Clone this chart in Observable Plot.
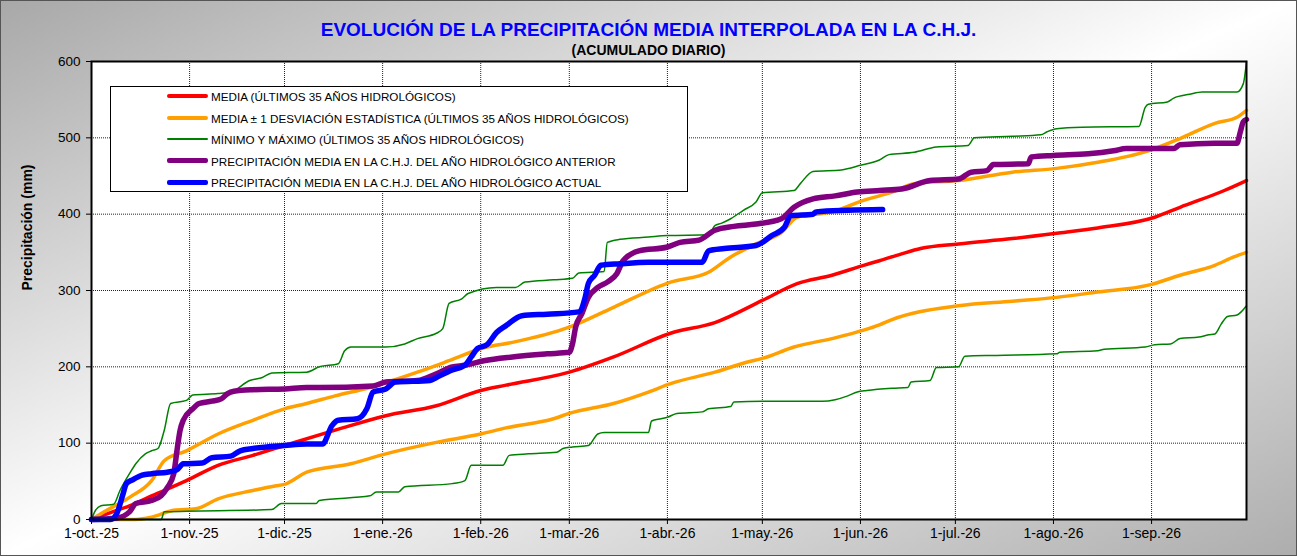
<!DOCTYPE html>
<html>
<head>
<meta charset="utf-8">
<script src="https://cdn.jsdelivr.net/npm/d3@7"></script>
<script src="https://cdn.jsdelivr.net/npm/@observablehq/plot@0.6"></script>
<style>
  html, body { margin: 0; padding: 0; }
  body { width: 1297px; height: 556px; overflow: hidden; font-family: "Liberation Sans", Arial, sans-serif; }
  #wrap {
    position: relative; width: 1297px; height: 556px;
    background: linear-gradient(to bottom right, #a8a8a8 0%, #ffffff 50%, #adadad 100%);
    box-shadow: inset 0 0 0 1px #555;
  }
  #chart { position: absolute; left: 0; top: 0; }
  #title { position: absolute; left: 0; width: 1297px; top: 19px; text-align: center; color: #0000ff; font-weight: bold; font-size: 19px; }
  #subtitle { position: absolute; left: 0; width: 1297px; top: 42px; text-align: center; color: #000; font-weight: bold; font-size: 14px; }
  #legend { position: absolute; left: 110px; top: 86px; width: 578px; height: 106px; box-sizing: border-box; border: 1px solid #000; background: #fff; }
  .lrow { position: absolute; left: 0; height: 0; }
  .lline { position: absolute; left: 56px; width: 41px; border-radius: 2px; }
  .ltext { position: absolute; left: 100px; font-size: 11.7px; color: #000; white-space: nowrap; transform: translateY(-50%); }
</style>
</head>
<body>
<div id="wrap">
  <div id="chart"></div>
  <div id="title"></div>
  <div id="subtitle"></div>
  <div id="legend"></div>
</div>
<script>
// ---- Data (day offset from 1-oct-2025, cumulative mm) ----
const titleText = "EVOLUCIÓN DE LA PRECIPITACIÓN MEDIA INTERPOLADA EN LA C.H.J.";
const subtitleText = "(ACUMULADO DIARIO)";
const yLabel = "Precipitación (mm)";

const tickDays = [0, 31, 61, 92, 123, 151, 182, 212, 243, 273, 304, 335];
const tickLabels = ["1-oct.-25", "1-nov.-25", "1-dic.-25", "1-ene.-26", "1-feb.-26", "1-mar.-26",
                    "1-abr.-26", "1-may.-26", "1-jun.-26", "1-jul.-26", "1-ago.-26", "1-sep.-26"];
const yTicks = [0, 100, 200, 300, 400, 500, 600];

const seriesNames = [
  "MEDIA (ÚLTIMOS 35 AÑOS HIDROLÓGICOS)",
  "MEDIA ± 1 DESVIACIÓN ESTADÍSTICA (ÚLTIMOS 35 AÑOS HIDROLÓGICOS)",
  "MÍNIMO Y MÁXIMO (ÚLTIMOS 35 AÑOS HIDROLÓGICOS)",
  "PRECIPITACIÓN MEDIA EN LA C.H.J. DEL AÑO HIDROLÓGICO ANTERIOR",
  "PRECIPITACIÓN MEDIA EN LA C.H.J. DEL AÑO HIDROLÓGICO ACTUAL"
];

const media = [[0,0],[6,9],[12,18],[19,31],[30,51],[40,71],[51,84],[61,97],[77,117],[93,136],[109,149],[123,169],[131,176],[151,193],[165,213],[183,244],[197,258],[212,287],[223,309],[234,320],[244,333],[249,339],[256,348],[262,355],[274,361],[291,368],[305,375],[318,382],[336,396],[344,409],[358,431],[365,444]];

const mediaMasSd = [[0,0],[4,10],[12,29],[19,51],[23,77],[30,90],[40,112],[51,130],[61,145],[68,152],[77,162],[88,173],[103,193],[113,208],[124,225],[133,232],[151,252],[165,278],[183,311],[195,324],[202,344],[210,361],[218,376],[223,396],[234,403],[244,418],[249,424],[253,429],[260,440],[274,444],[291,455],[305,460],[318,468],[334,483],[344,499],[355,519],[362,527],[365,536]];

const mediaMenosSd = [[0,0],[14,0],[19,3],[26,12],[33,14],[40,27],[51,38],[58,44],[61,46],[68,62],[82,73],[93,86],[109,101],[123,112],[131,120],[146,132],[151,139],[165,152],[176,167],[183,178],[197,193],[207,206],[212,211],[222,226],[234,237],[244,248],[249,255],[253,262],[274,280],[291,286],[305,291],[318,298],[334,307],[344,320],[355,333],[361,344],[365,350]];

const maximo = [[0,0],[1,10],[3,18],[7,20],[9,38],[12,60],[14,73],[17,86],[19,90],[21,93],[23,117],[25,152],[30,156],[32,163],[40,165],[44,167],[50,182],[54,186],[57,192],[68,193],[72,200],[78,204],[80,221],[82,226],[93,226],[99,230],[103,237],[109,244],[111,250],[113,283],[117,289],[119,296],[128,304],[134,304],[137,311],[146,314],[152,316],[154,323],[162,325],[163,363],[167,367],[176,370],[182,372],[195,373],[197,385],[199,388],[202,394],[206,405],[210,416],[212,428],[222,431],[224,440],[228,456],[237,458],[243,464],[249,471],[252,478],[260,481],[267,488],[277,490],[279,500],[291,502],[300,504],[302,508],[305,512],[313,514],[331,515],[333,540],[334,544],[340,547],[342,552],[347,557],[351,560],[362,560],[364,571],[365,600]];

const minimo = [[0,0],[22,0],[23,10],[57,13],[60,21],[71,21],[72,25],[88,31],[90,36],[97,36],[99,43],[114,47],[118,51],[120,71],[130,71],[132,84],[138,86],[147,88],[149,93],[152,95],[157,97],[160,112],[162,114],[176,114],[177,129],[180,132],[182,134],[185,139],[193,141],[195,145],[202,148],[203,154],[212,155],[231,155],[235,157],[239,162],[242,167],[245,169],[253,172],[258,173],[259,180],[265,182],[267,199],[274,200],[276,214],[286,215],[305,217],[306,219],[318,221],[320,223],[333,226],[336,229],[341,230],[344,237],[350,239],[353,242],[355,243],[357,256],[359,266],[362,268],[365,280]];

const anterior = [[0,0],[8,2],[12,10],[14,21],[19,25],[22,31],[24,42],[26,60],[27,90],[28,117],[29,130],[32,145],[34,152],[38,155],[41,158],[43,165],[45,168],[51,170],[61,171],[68,173],[72,173],[89,175],[93,180],[103,182],[109,191],[114,200],[118,202],[124,208],[133,213],[144,217],[151,219],[152,230],[153,252],[155,270],[157,291],[160,304],[163,311],[166,322],[168,339],[173,352],[182,357],[186,363],[192,366],[197,379],[203,384],[210,387],[218,394],[222,409],[228,420],[235,424],[242,429],[249,431],[256,433],[265,444],[274,446],[278,455],[283,457],[285,465],[296,466],[297,475],[304,477],[315,479],[323,483],[327,486],[342,486],[344,491],[355,493],[362,493],[363,507],[364,521],[365,524]];

const actual = [[0,0],[6,0],[8,8],[10,34],[11,47],[13,52],[16,58],[19,60],[24,62],[27,65],[29,73],[35,74],[38,81],[44,83],[47,90],[51,93],[61,97],[68,99],[73,99],[76,123],[78,130],[84,132],[87,145],[89,167],[93,171],[96,180],[107,182],[109,186],[114,196],[118,202],[120,213],[122,224],[125,229],[128,245],[131,254],[136,267],[144,269],[154,272],[156,291],[157,309],[159,320],[161,333],[167,335],[176,337],[193,337],[195,352],[200,355],[210,359],[215,372],[219,383],[221,398],[228,400],[229,403],[239,405],[250,406]];

// ---- Helpers ----
const start = new Date(Date.UTC(2025, 9, 1));
const toDate = d => new Date(start.getTime() + d * 864e5);
const rows = arr => arr.map(([d, v]) => ({date: toDate(d), v}));
const tickDates = tickDays.map(toDate);
const labelMap = new Map(tickDates.map((d, i) => [+d, tickLabels[i]]));

const colors = {red: "#ff0000", orange: "#ffa000", green: "#008000", purple: "#800080", blue: "#0000ff"};
const lineOpts = (color, w) => ({x: "date", y: "v", stroke: color, strokeWidth: w, curve: "monotone-x", strokeLinejoin: "round", strokeLinecap: "round"});

const chart = Plot.plot({
  width: 1297,
  height: 556,
  marginLeft: 91,
  marginRight: 51,
  marginTop: 61,
  marginBottom: 37,
  style: {background: "transparent", fontFamily: "'Liberation Sans', Arial, sans-serif", fontSize: "13px", color: "#000", overflow: "visible"},
  x: {type: "utc", domain: [toDate(0), toDate(365)]},
  y: {domain: [0, 600]},
  marks: [
    Plot.frame({fill: "#ffffff", stroke: "none"}),
    Plot.gridX(tickDates.slice(1), {stroke: "#222", strokeOpacity: 1, strokeWidth: 1, strokeDasharray: "1,1"}),
    Plot.gridY(yTicks.slice(1, -1), {stroke: "#222", strokeOpacity: 1, strokeWidth: 1, strokeDasharray: "1,1"}),
    Plot.line(rows(media), lineOpts(colors.red, 3.5)),
    Plot.line(rows(mediaMasSd), lineOpts(colors.orange, 3.5)),
    Plot.line(rows(mediaMenosSd), lineOpts(colors.orange, 3.5)),
    Plot.line(rows(maximo), lineOpts(colors.green, 1.5)),
    Plot.line(rows(minimo), lineOpts(colors.green, 1.5)),
    Plot.line(rows(anterior), lineOpts(colors.purple, 5.5)),
    Plot.line(rows(actual), lineOpts(colors.blue, 5.5)),
    Plot.frame({stroke: "#000", strokeWidth: 2}),
    Plot.axisX(tickDates, {tickSize: 5, tickPadding: 4, tickFormat: d => labelMap.get(+d), label: null, fontSize: 14}),
    Plot.axisY(yTicks, {tickSize: 5, tickPadding: 6, label: null, fontSize: 13.5}),
    Plot.text([yLabel], {frameAnchor: "left", rotate: -90, dx: -64, fontWeight: "bold", fontSize: 14})
  ]
});
document.getElementById("chart").appendChild(chart);

document.getElementById("title").textContent = titleText;
document.getElementById("subtitle").textContent = subtitleText;

// ---- Legend ----
const legendItems = [
  {name: seriesNames[0], color: colors.red, w: 4},
  {name: seriesNames[1], color: colors.orange, w: 4},
  {name: seriesNames[2], color: colors.green, w: 2},
  {name: seriesNames[3], color: colors.purple, w: 5},
  {name: seriesNames[4], color: colors.blue, w: 5}
];
const legend = document.getElementById("legend");
legendItems.forEach((it, i) => {
  const row = document.createElement("div");
  row.className = "lrow";
  row.style.top = (9 + i * 21.6) + "px";
  const ln = document.createElement("div");
  ln.className = "lline";
  ln.style.background = it.color;
  ln.style.height = it.w + "px";
  ln.style.top = (-it.w / 2) + "px";
  const tx = document.createElement("div");
  tx.className = "ltext";
  tx.textContent = it.name;
  row.appendChild(ln);
  row.appendChild(tx);
  legend.appendChild(row);
});
</script>
</body>
</html>
